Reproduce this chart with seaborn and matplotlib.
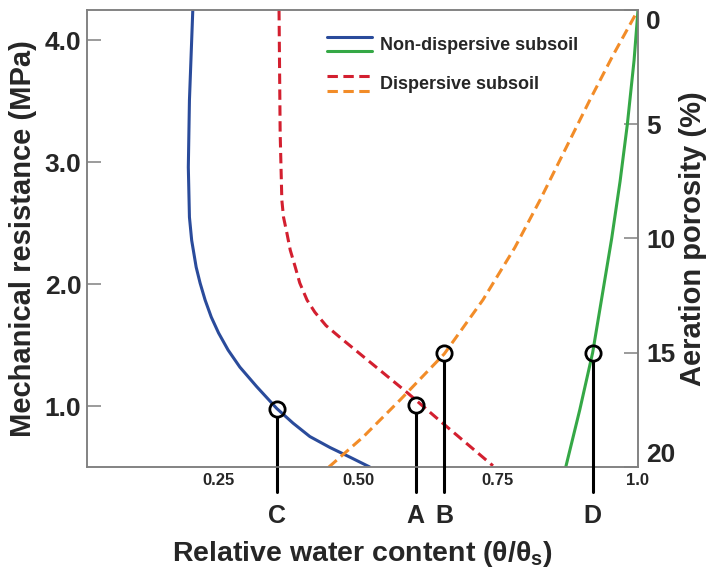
import matplotlib
matplotlib.use("Agg")
import matplotlib.pyplot as plt
import seaborn as sns
from matplotlib.legend_handler import HandlerBase
from matplotlib.lines import Line2D

sns.set_style("white")
plt.rcParams["font.family"] = ["Liberation Sans", "DejaVu Sans"]
plt.rcParams["font.weight"] = "bold"
plt.rcParams["mathtext.fontset"] = "custom"
plt.rcParams["mathtext.rm"] = "Liberation Sans:bold"
plt.rcParams["mathtext.it"] = "Liberation Sans:bold"

# Mechanical resistance (MPa) vs relative water content, left axis
NONDISP_MR_X = [0.205, 0.199, 0.197, 0.199, 0.203, 0.211, 0.218, 0.227,
                0.238, 0.251, 0.268, 0.289, 0.319, 0.355, 0.384, 0.414,
                0.450, 0.486, 0.521]
NONDISP_MR_Y = [4.25, 3.51, 2.96, 2.55, 2.36, 2.14, 2.01, 1.87,
                1.73, 1.60, 1.46, 1.32, 1.16, 0.98, 0.86, 0.75,
                0.66, 0.58, 0.50]
DISP_MR_X = [0.359, 0.361, 0.364, 0.367, 0.373, 0.379, 0.388, 0.396,
             0.409, 0.423, 0.443, 0.470, 0.527, 0.588, 0.646, 0.741]
DISP_MR_Y = [4.25, 3.24, 2.69, 2.55, 2.42, 2.28, 2.14, 2.01,
             1.87, 1.77, 1.66, 1.555, 1.34, 1.11, 0.88, 0.51]

# Aeration porosity (%) vs relative water content, right axis
NONDISP_AP_X = [1.0, 0.993, 0.981, 0.968, 0.953, 0.936, 0.919, 0.896, 0.871]
NONDISP_AP_Y = [0.0, 2.2, 5.0, 7.5, 10.0, 12.5, 15.0, 17.5, 20.0]
DISP_AP_X = [0.448, 0.509, 0.575, 0.654, 0.723, 0.780, 0.825, 0.914,
             0.955, 1.0]
DISP_AP_Y = [20.0, 18.69, 17.07, 15.05, 12.69, 10.4, 8.32, 3.94,
             2.0, 0.0]

# marked points
MR_POINT_LABELS = ["C", "A"]
MR_POINT_X = [0.355, 0.603]
MR_POINT_Y = [0.98, 1.01]
AP_POINT_LABELS = ["B", "D"]
AP_POINT_X = [0.654, 0.919]
AP_POINT_Y = [15.0, 15.0]

X_TICKS = [0.25, 0.50, 0.75, 1.0]
X_TICK_LABELS = ["0.25", "0.50", "0.75", "1.0"]
MR_TICKS = [1.0, 2.0, 3.0, 4.0]
AP_TICKS = [0, 5, 10, 15, 20]

BLUE = "#2a4b9b"
GREEN = "#35a846"
RED = "#d31f2f"
ORANGE = "#f28c28"
GREY = "#808080"
LW = 2.2
DASH = (0, (3.4, 1.8))


class PairHandler(HandlerBase):
    """Draw two legend lines stacked on top of each other."""

    def create_artists(self, legend, orig_handle, xdescent, ydescent,
                       width, height, fontsize, trans):
        mid = height / 2 - ydescent
        gap = 0.4 * fontsize
        artists = []
        for line, dy in zip(orig_handle, (gap, -gap)):
            a = Line2D([-xdescent, width - xdescent], [mid + dy, mid + dy])
            a.update_from(line)
            a.set_transform(trans)
            artists.append(a)
        return artists


fig = plt.figure(figsize=(7.07, 5.74), dpi=100)
ax = fig.add_axes([0.123, 0.1864, 0.7794, 0.7962])
ax2 = ax.twinx()

sns.lineplot(x=NONDISP_MR_X, y=NONDISP_MR_Y, sort=False, estimator=None,
             color=BLUE, linewidth=LW, ax=ax)
blue_line = ax.lines[-1]
sns.lineplot(x=DISP_MR_X, y=DISP_MR_Y, sort=False, estimator=None,
             color=RED, linewidth=LW, linestyle=DASH, ax=ax)
red_line = ax.lines[-1]
sns.lineplot(x=NONDISP_AP_X, y=NONDISP_AP_Y, sort=False, estimator=None,
             color=GREEN, linewidth=LW, ax=ax2)
green_line = ax2.lines[-1]
sns.lineplot(x=DISP_AP_X, y=DISP_AP_Y, sort=False, estimator=None,
             color=ORANGE, linewidth=LW, linestyle=DASH, ax=ax2)
orange_line = ax2.lines[-1]
for line in (blue_line, red_line, green_line, orange_line):
    line.set_solid_joinstyle("round")
    line.set_dash_joinstyle("round")

# open circles with stems dropping below the x axis
stem_kw = dict(color="black", linewidth=2.2, clip_on=False, zorder=5)
for axis, xs, ys, gap, bottom in ((ax, MR_POINT_X, MR_POINT_Y, 0.066, 0.295),
                                  (ax2, AP_POINT_X, AP_POINT_Y, -0.35, 21.1)):
    for x, y in zip(xs, ys):
        axis.plot([x, x], [y - gap, bottom], **stem_kw)
    axis.plot(xs, ys, linestyle="none", marker="o", markersize=11,
              markerfacecolor="none", markeredgecolor="black",
              markeredgewidth=2.0, clip_on=False, zorder=6)

for label, x in zip(MR_POINT_LABELS + AP_POINT_LABELS, MR_POINT_X + AP_POINT_X):
    ax.text(x, -0.107, label, transform=ax.get_xaxis_transform(),
            ha="center", va="center", fontsize=18, fontweight="bold")

ax.set_xlim(0.016, 1.0)
ax.set_ylim(0.5, 4.25)
ax2.set_ylim(20, 0)

ax.set_xticks(X_TICKS)
ax.set_xticklabels(X_TICK_LABELS)
ax.set_yticks(MR_TICKS)
ax.set_yticklabels([f"{t:.1f}" for t in MR_TICKS])
ax2.set_yticks(AP_TICKS)
ax2.set_yticklabels([str(t) for t in AP_TICKS])
ax2.get_yticklabels()[0].set_va("top")
ax2.get_yticklabels()[-1].set_va("bottom")

ax.tick_params(axis="x", direction="in", length=10, width=1.1, color=GREY,
               labelsize=12, pad=4, top=False)
ax.tick_params(axis="y", direction="in", length=10, width=1.1, color=GREY,
               labelsize=19, pad=4, right=False)
ax2.tick_params(axis="y", direction="in", length=10, width=1.1, color=GREY,
                labelsize=19, pad=6)

for a in (ax, ax2):
    for spine in a.spines.values():
        spine.set_color(GREY)
        spine.set_linewidth(1.1)
        spine.set_visible(True)

ax.set_xlabel(r"Relative water content (θ/θ$_\mathrm{s}$)", fontsize=20.5,
              fontweight="bold")
ax.xaxis.set_label_coords(0.5, -0.158)
ax.set_ylabel("Mechanical resistance (MPa)", fontsize=21, fontweight="bold")
ax.yaxis.set_label_coords(-0.09, 0.5)
ax2.set_ylabel("Aeration porosity (%)", fontsize=21, fontweight="bold")
ax2.yaxis.set_label_coords(1.074, 0.5)

ax2.legend([(blue_line, green_line), (red_line, orange_line)],
           ["Non-dispersive subsoil", "Dispersive subsoil"],
           handler_map={tuple: PairHandler()}, loc="upper left",
           bbox_to_anchor=(0.4356, 0.9565), frameon=False,
           handlelength=2.5, handleheight=2.0, handletextpad=0.45,
           labelspacing=0.65, borderpad=0, borderaxespad=0,
           prop={"weight": "bold", "size": 13})

fig.savefig("out.png", dpi=100)
